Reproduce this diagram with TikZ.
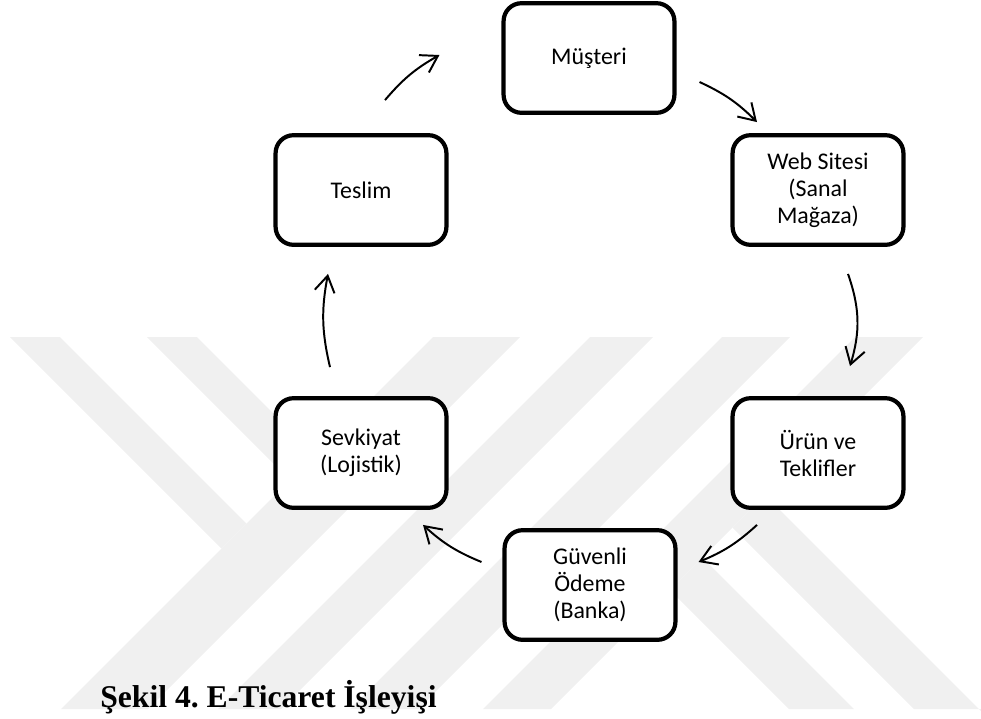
\documentclass[tikz,border=0pt]{standalone}
\usepackage{fontspec}
\setmainfont{Carlito}
\newfontfamily\basfont{Liberation Serif}
\usetikzlibrary{arrows.meta}
\frenchspacing
\tikzset{
  kutu/.style={draw=black, line width=3pt, rounded corners=0.45cm, fill=white, align=center,
    minimum width=4.27cm, minimum height=2.74cm, inner sep=2pt, font=\fontsize{17}{19.2}\selectfont},
  ok/.style={line width=1.4pt, -{Straight Barb[length=0.4cm,width=0.5cm]}},
  iz/.style={fill=black!6, draw=none}
}
\begin{document}
\begin{tikzpicture}[x=0.025cm, y=-0.025cm]
  \useasboundingbox (0,0) rectangle (981,718);
  % filigran
  \fill[iz] (433,337) -- (520,337) -- (148,709) -- (61,709) -- cycle;
  \fill[iz] (590,337) -- (653,337) -- (281,709) -- (218,709) -- cycle;
  \fill[iz] (722,337) -- (790,337) -- (418,709) -- (350,709) -- cycle;
  \fill[iz] (855,337) -- (923,337) -- (551,709) -- (483,709) -- cycle;
  \fill[iz] (10,337) -- (60,337) -- (246.5,523.5) -- (221.5,548.5) -- cycle;
  \fill[iz] (147,337) -- (197,337) -- (315,455) -- (290,480) -- cycle;
  \fill[iz] (702.5,557.5) -- (854,709) -- (789,709) -- (670,590) -- cycle;
  \fill[iz] (765,495) -- (981,711) -- (981,709) -- (914,709) -- (732.5,527.5) -- cycle;

  % kutular
  \node[kutu] (musteri)  at (589,58)  {Müşteri};
  \node[kutu] (site)     at (818,190) {Web Sitesi\\(Sanal\\Mağaza)};
  \node[kutu] (urun)     at (818,453) {Ürün ve\\Teklifler};
  \node[kutu] (odeme)    at (590,585) {Güvenli\\Ödeme\\(Banka)};
  \node[kutu] (sevkiyat) at (361,453) {Sevkiyat\\(Lojistik)};
  \node[kutu] (teslim)   at (361,190) {Teslim};

  % oklar
  \draw[ok] ([shift={(24,-33)}]teslim.north) to[bend left=10] ([shift={(-62,-3)}]musteri.west);
  \draw[ok] ([shift={(23,24)}]musteri.east) to[bend left=10] ([shift={(-61,-11)}]site.north);
  \draw[ok] ([shift={(30,27)}]site.south) to[bend left=18] ([shift={(32,-30)}]urun.north);
  \draw[ok] ([shift={(-61,15)}]urun.south) to[bend left=10] ([shift={(21,-23)}]odeme.east);
  \draw[ok] ([shift={(-21,-23)}]odeme.west) to[bend left=10] ([shift={(62,15)}]sevkiyat.south);
  \draw[ok] ([shift={(-31,-29)}]sevkiyat.north) to[bend left=12] ([shift={(-33,27)}]teslim.south);

  \node[anchor=base west, inner sep=0, font=\basfont\bfseries\fontsize{22.5}{26}\selectfont]
    (baslik) at (100,707) {Şekil 4. E-Ticaret İşleyişi};
\end{tikzpicture}
\end{document}
